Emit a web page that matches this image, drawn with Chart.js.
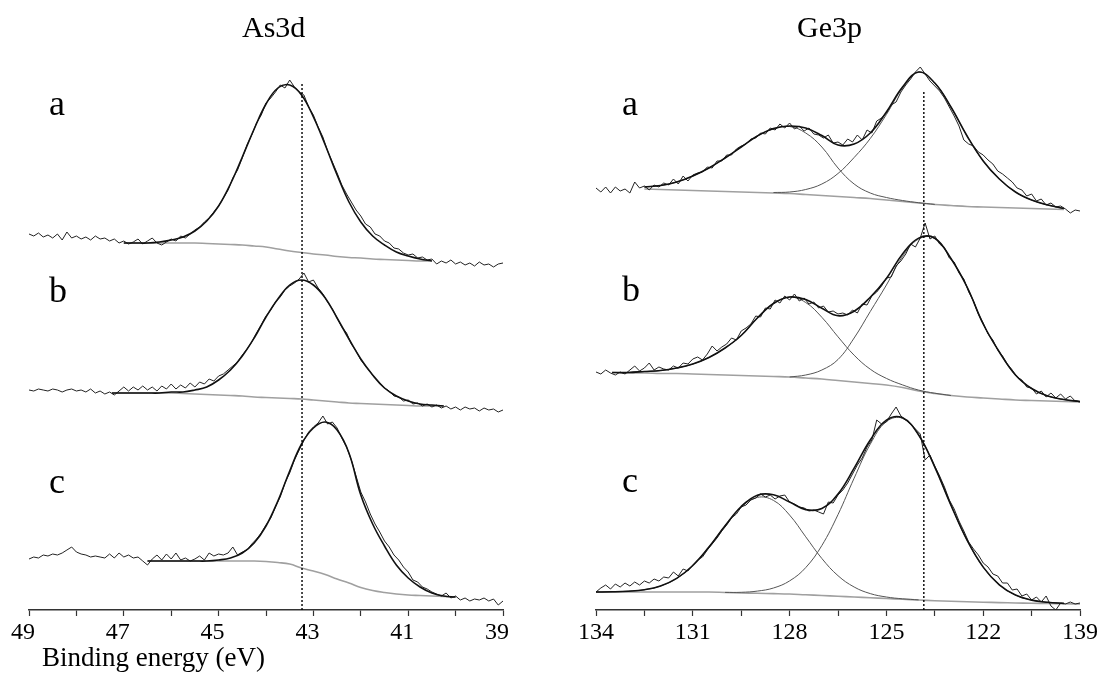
<!DOCTYPE html>
<html>
<head>
<meta charset="utf-8">
<script src="https://cdn.jsdelivr.net/npm/chart.js@4.4.1/dist/chart.umd.min.js"></script>
<style>
  body { margin: 0; background: #fff; }
  #wrap { position: relative; width: 1104px; height: 673px; overflow: hidden; font-family: "Liberation Serif", "Times New Roman", serif; color: #000; }
  canvas { position: absolute; top: 0; }
  .txt { position: absolute; line-height: 1; white-space: nowrap; }
  .title { font-size: 30px; top: 12px; }
  .lbl { font-size: 36px; }
  .xlab { font-size: 27px; top: 644px; left: 42px; }
</style>
</head>
<body>
<div id="wrap">
  <canvas id="left" width="540" height="673" style="left:0"></canvas>
  <canvas id="right" width="544" height="673" style="left:560px"></canvas>
  <div class="txt title" style="left:242px">As3d</div>
  <div class="txt title" style="left:797px">Ge3p</div>
  <div class="txt lbl" style="left:49px;top:85px">a</div>
  <div class="txt lbl" style="left:49px;top:272px">b</div>
  <div class="txt lbl" style="left:49px;top:463px">c</div>
  <div class="txt lbl" style="left:622px;top:85px">a</div>
  <div class="txt lbl" style="left:622px;top:271px">b</div>
  <div class="txt lbl" style="left:622px;top:462px">c</div>
  <div class="txt xlab">Binding energy (eV)</div>
</div>
<script>
// ---- As3d : raw spectra (binding energy, eV) ----
const leftE = [49, 48.9, 48.8, 48.7, 48.6, 48.5, 48.4, 48.3, 48.2, 48.1,
  48, 47.9, 47.8, 47.7, 47.6, 47.5, 47.4, 47.3, 47.2, 47.1,
  47, 46.9, 46.8, 46.7, 46.6, 46.5, 46.4, 46.3, 46.2, 46.1,
  46, 45.9, 45.8, 45.7, 45.6, 45.5, 45.4, 45.3, 45.2, 45.1,
  45, 44.9, 44.8, 44.7, 44.6, 44.5, 44.4, 44.3, 44.2, 44.1,
  44, 43.9, 43.8, 43.7, 43.6, 43.5, 43.4, 43.3, 43.2, 43.1,
  43, 42.9, 42.8, 42.7, 42.6, 42.5, 42.4, 42.3, 42.2, 42.1,
  42, 41.9, 41.8, 41.7, 41.6, 41.5, 41.4, 41.3, 41.2, 41.1,
  41, 40.9, 40.8, 40.7, 40.6, 40.5, 40.4, 40.3, 40.2, 40.1,
  40, 39.9, 39.8, 39.7, 39.6, 39.5, 39.4, 39.3, 39.2, 39.1, 39];
const asRawA = [376, 374, 377, 373, 375, 372, 376, 370, 378, 372,
  374, 371, 373, 370, 374, 371, 372, 369, 371, 367,
  369, 366, 368, 371, 366, 369, 372, 367, 365, 368,
  371, 369, 374, 372, 376, 380, 383, 388, 392, 398,
  404, 412, 420, 432, 440, 452, 465, 475, 487, 495,
  507, 512, 518, 525, 522, 530, 523, 518, 515, 503,
  495, 483, 473, 459, 448, 437, 425, 416, 408, 400,
  394, 386, 383, 376, 374, 369, 367, 362, 361, 357,
  355, 356, 352, 353, 350, 351, 346, 349, 347, 350,
  346, 348, 345, 347, 344, 348, 345, 346, 343, 346, 347];
const asRawB = [220, 219, 221, 220, 219, 221, 220, 218, 220, 221,
  219, 220, 218, 221, 217, 219, 216, 218, 215, 219,
  223, 219, 223, 220, 224, 220, 223, 219, 224, 221,
  226, 221, 225, 222, 227, 223, 228, 226, 231, 229,
  234, 236, 240, 244, 248, 255, 261, 268, 277, 285,
  294, 300, 308, 313, 320, 324, 327, 331, 337, 328,
  330, 322, 316, 308, 301, 292, 283, 277, 266, 259,
  250, 244, 238, 232, 227, 222, 219, 214, 213, 209,
  210, 206, 207, 204, 206, 203, 205, 202, 204, 201,
  203, 200, 203, 201, 202, 199, 202, 200, 201, 198, 200];
const asRawC = [51, 53, 52, 55, 54, 56, 55, 57, 60, 63,
  58, 56, 55, 53, 54, 53, 52, 56, 52, 57,
  53, 55, 52, 53, 49, 45, 51, 55, 50, 56,
  51, 57, 50, 52, 49, 51, 54, 50, 57, 54,
  56, 55, 57, 63, 55, 58, 60, 66, 71, 77,
  85, 92, 103, 113, 127, 137, 150, 160, 170, 178,
  183, 187, 194, 186, 188, 182, 172, 163, 150, 134,
  118, 108, 96, 86, 78, 69, 63, 55, 50, 43,
  38, 30, 28, 23, 21, 18, 16, 14, 17, 12,
  14, 10, 12, 9, 11, 10, 12, 9, 11, 5, 9];

// ---- As3d : fitted curves ----
const leftFitE = [47.25, 47, 46.75, 46.5, 46.25, 46, 45.75, 45.5, 45.25, 45,
  44.75, 44.5, 44.25, 44, 43.75, 43.5, 43.25, 43, 42.75, 42.5,
  42.25, 42, 41.75, 41.5, 41.25, 41, 40.75, 40.5, 40.25, 40];
const asFitA = [null, 367, 367, 367, 368, 370, 373, 379, 389, 404,
  426, 453, 481, 506, 522, 525, 515, 493, 465, 435,
  408, 388, 374, 365, 358, 354, 351, 349, null, null];
const asBgA = [null, 367, 367, 367, 367, 367, 367, 367, 366.5, 366,
  365.5, 365, 364, 363, 361, 359, 357.5, 356, 355, 353.5,
  352.5, 352, 351, 350.5, 350, 349.5, 349, 349, null, null];
const asFitB = [217, 217, 217, 217, 217, 218, 218, 220, 223, 230,
  240, 254, 272, 293, 311, 325, 330, 325, 312, 292,
  271, 251, 235, 222, 214, 209, 206, 205, 204, null];
const asBgB = [217, 217, 217, 217, 217, 217, 216.5, 216, 215.5, 215,
  214.5, 214, 213, 212.5, 212, 211.5, 211, 210, 209, 208,
  207, 206.5, 206, 205.5, 205, 204.5, 204, 204, 204, null];
const asFitC = [null, null, null, 49, 49, 49, 49, 49, 49, 50,
  52, 57, 67, 84, 109, 139, 166, 182, 188, 180,
  157, 115, 86, 64, 45, 32, 23, 17, 14, 13];
const asBgC = [null, null, null, 49, 49, 49, 49, 49, 49, 49,
  49, 49, 49, 48.5, 47.5, 46, 42, 39, 35.5, 31,
  27, 22.5, 19.5, 17.5, 16, 15, 14.5, 14, 13.5, 13];
const asRef = 43.24;   // dotted reference line
const asTicks = [49, 47, 45, 43, 41, 39];

// ---- Ge3p : raw spectra ----
const rightE = [134, 133.85, 133.7, 133.55, 133.4, 133.25, 133.1, 132.95, 132.8, 132.65,
  132.5, 132.35, 132.2, 132.05, 131.9, 131.75, 131.6, 131.45, 131.3, 131.15,
  131, 130.85, 130.7, 130.55, 130.4, 130.25, 130.1, 129.95, 129.8, 129.65,
  129.5, 129.35, 129.2, 129.05, 128.9, 128.75, 128.6, 128.45, 128.3, 128.15,
  128, 127.85, 127.7, 127.55, 127.4, 127.25, 127.1, 126.95, 126.8, 126.65,
  126.5, 126.35, 126.2, 126.05, 125.9, 125.75, 125.6, 125.45, 125.3, 125.15,
  125, 124.85, 124.7, 124.55, 124.4, 124.25, 124.1, 123.95, 123.8, 123.65,
  123.5, 123.35, 123.2, 123.05, 122.9, 122.75, 122.6, 122.45, 122.3, 122.15,
  122, 121.85, 121.7, 121.55, 121.4, 121.25, 121.1, 120.95, 120.8, 120.65,
  120.5, 120.35, 120.2, 120.05, 119.9, 119.75, 119.6, 119.45, 119.3, 119.15, 119];
const geRawA = [422, 418, 423, 417, 423, 419, 421, 417, 428, 422,
  424, 420, 425, 423, 427, 425, 431, 426, 434, 429,
  435, 437, 438, 443, 442, 449, 449, 455, 455, 461,
  464, 466, 471, 472, 477, 476, 482, 480, 486, 482,
  487, 481, 484, 479, 482, 476, 475, 472, 475, 467,
  468, 465, 471, 468, 475, 470, 480, 477, 489, 492,
  497, 505, 508, 518, 525, 531, 538, 543, 536, 529,
  524, 519, 512, 503, 494, 484, 470, 466, 464, 458,
  455, 450, 446, 439, 436, 432, 428, 422, 420, 414,
  416, 409, 411, 405, 407, 403, 404, 401, 397, 400, 399];
const geRawB = [238, 236, 240, 237, 235, 238, 236, 240, 244, 239,
  242, 247, 240, 243, 241, 240, 244, 242, 247, 246,
  251, 253, 250, 256, 264, 259, 263, 266, 272, 270,
  279, 282, 286, 294, 293, 302, 301, 310, 307, 314,
  310, 316, 309, 312, 306, 308, 302, 304, 298, 299,
  296, 297, 295, 300, 297, 306, 305, 314, 318, 324,
  332, 333, 344, 349, 356, 366, 363, 372, 387, 371,
  374, 366, 362, 352, 348, 337, 331, 318, 309, 296,
  287, 276, 270, 260, 254, 246, 240, 233, 230, 223,
  222, 216, 219, 213, 217, 212, 216, 211, 214, 209, 208];
const geRawC = [18, 22, 25, 21, 26, 23, 27, 24, 28, 25,
  29, 27, 31, 29, 33, 32, 38, 34, 41, 39,
  45, 50, 53, 60, 66, 72, 79, 85, 92, 96,
  103, 105, 110, 112, 116, 113, 115, 111, 114, 115,
  108, 106, 103, 102, 99, 100, 98, 96, 108, 107,
  115, 120, 127, 136, 145, 152, 163, 170, 190, 186,
  188, 196, 203, 194, 190, 186, 181, 176, 150, 155,
  144, 134, 123, 110, 101, 89, 79, 68, 61, 55,
  47, 43, 36, 34, 27, 27, 20, 21, 14, 16,
  10, 13, 8, 14, 4, 0, 7, 6, 8, 6, 7];

// ---- Ge3p : fitted curves ----
const rightFitE = [134, 133.5, 133, 132.5, 132, 131.5, 131, 130.5, 130, 129.5,
  129, 128.5, 128, 127.5, 127, 126.5, 126, 125.5, 125, 124.5,
  124, 123.5, 123, 122.5, 122, 121.5, 121, 120.5, 120, 119.5, 119];
const geFitA = [null, null, null, 423, 424.5, 428, 434, 442, 452, 463,
  474, 481.5, 484, 482, 474.5, 465, 466, 477, 498, 523,
  538, 527, 503, 474, 449, 431, 418, 410, 405, 401.5, null];
const geBgA = [null, null, null, 421, 420.5, 420, 419.5, 419, 418.5, 418,
  417.5, 417, 416.5, 415.5, 414.5, 413.5, 412.5, 411.5, 410, 408.5,
  407, 405.5, 404.5, 403.5, 403, 402.5, 402, 401.5, 401, 400.5, null];
const geP1A = [null, null, null, 423, 424.5, 428, 434, 442, 452, 463,
  474, 481, 483.5, 477, 463, 442, 426, 417, 412.5, 409.5,
  407.3, 405.6, null, null, null, null, null, null, null, null, null];
const geP2A = [null, null, null, null, null, null, null, null, null, null,
  null, 417.5, 418, 420.5, 426, 436.5, 452.5, 471.5, 495.5, 522,
  538, 527, 503, 474, 449, 431, 418, 410, 405, 401.5, null];
const geFitB = [null, 237.5, 237.5, 238.5, 239.5, 242, 246, 252.5, 262, 274.5,
  292, 306.5, 313, 310.5, 301.7, 294.2, 298.8, 312.8, 331.6, 356.1,
  371.9, 371.8, 351.5, 323, 286, 258, 235, 221.5, 214, 210.5, 208.5];
const geBgB = [null, 237.5, 237, 237, 236.5, 236.5, 236, 235.5, 235, 234.5,
  234, 233.5, 233, 232, 231, 229.5, 228, 226.5, 225, 222.5,
  219, 216.5, 214.5, 213, 212, 211, 210, 209.5, 209, 208.5, 208];
const geP1B = [null, 237.5, 237.5, 238.5, 239.5, 242, 246, 252.5, 262, 274.5,
  292, 306.5, 313, 307.5, 292.7, 273.2, 254.8, 240.8, 231.6, 225.1,
  219.9, 216.8, 214.5, null, null, null, null, null, null, null, null];
const geP2B = [null, null, null, null, null, null, null, null, null, null,
  null, null, 233, 235, 240, 250.5, 272, 298.5, 325, 353.5,
  371, 371.5, 351.5, 323, 286, 258, 235, 221.5, 214, 210.5, 208.5];
const geFitC = [18, 18.2, 18.8, 20.3, 24, 31.6, 44.5, 63, 84.2, 103.5,
  114.8, 115.2, 108, 100.4, 101.5, 116, 141.8, 170, 189.9, 192.2,
  175, 142.9, 104.9, 69.8, 42.9, 25.2, 15, 9.9, 7.7, 6.6, null];
const geBgC = [18, 18, 18, 18, 18, 18, 18, 18, 17.5, 17,
  16.7, 16.4, 16, 15.2, 14.5, 13.7, 13, 12.2, 11.5, 10.7,
  10, 9.3, 8.7, 8.2, 7.8, 7.4, 7, 6.7, 6.5, 6.2, 6];
const geP1C = [18, 18.2, 18.8, 20.3, 24, 31.6, 44.5, 63, 84.2, 102.8,
  112.6, 109.6, 94.9, 73.2, 51.5, 34.3, 23, 16.4, 13, 11.2,
  10.1, null, null, null, null, null, null, null, null, null, null];
const geP2C = [null, null, null, null, null, null, null, null, 17.6, 17.7,
  18.9, 22, 29.1, 42.4, 64.5, 95.4, 131.8, 165.8, 188.4, 191.7,
  174.9, 142.9, 104.9, 69.8, 42.9, 25.2, 15, 9.9, 7.7, 6.6, null];
const geRef = 123.84;
const geTicks = [134, 131, 128, 125, 122, 119];
const geTickText = ['134', '131', '128', '125', '122', '139'];

// helpers
function pts(xs, ys) {
  const out = [];
  xs.forEach((x, i) => { if (ys[i] !== null) out.push({ x: x, y: ys[i] }); });
  return out;
}
const FIT = { borderColor: '#111', borderWidth: 1.6, tension: 0.4 };
const RAW = { borderColor: '#222', borderWidth: 1, tension: 0 };
const COMP = { borderColor: '#555', borderWidth: 1, tension: 0.4 };
const BG = { borderColor: '#a0a0a0', borderWidth: 1.6, tension: 0.4 };
const DOT = { borderColor: '#000', borderDash: [2, 2], borderWidth: 1.4, tension: 0 };

function ds(style, data) {
  return Object.assign({ data: data, pointRadius: 0, fill: false }, style);
}

function makeChart(id, opt) {
  return new Chart(document.getElementById(id), {
    type: 'line',
    data: { datasets: opt.datasets },
    options: {
      responsive: false,
      animation: false,
      devicePixelRatio: 1,
      layout: { padding: opt.padding },
      plugins: { legend: { display: false }, tooltip: { enabled: false } },
      scales: {
        x: {
          type: 'linear',
          reverse: true,
          min: opt.min,
          max: opt.max,
          afterFit: s => { s.height = 63; },
          border: { display: true, color: '#333', width: 1.5 },
          grid: { display: true, drawOnChartArea: false, drawTicks: true, tickLength: 6, tickColor: '#333', tickWidth: 1.2 },
          ticks: {
            stepSize: opt.step,
            autoSkip: false,
            maxRotation: 0,
            padding: 2,
            labelOffset: opt.labelOffset,
            color: '#000',
            font: { family: '"Liberation Serif", "Times New Roman", serif', size: 24 },
            callback: opt.label
          }
        },
        y: { display: false, min: 0, max: 560 }
      }
    }
  });
}

function near(list, v) {
  return list.findIndex(t => Math.abs(t - v) < 1e-6);
}

makeChart('left', {
  min: 39, max: 49, step: 1, labelOffset: -6,
  padding: { top: 50, left: 29, right: 37, bottom: 0 },
  label: v => (near(asTicks, v) >= 0 ? String(v) : ''),
  datasets: [
    ds(DOT, [{ x: asRef, y: 0 }, { x: asRef, y: 527 }]),
    ds(FIT, pts(leftFitE, asFitA)),
    ds(FIT, pts(leftFitE, asFitB)),
    ds(FIT, pts(leftFitE, asFitC)),
    ds(RAW, pts(leftE, asRawA)),
    ds(RAW, pts(leftE, asRawB)),
    ds(RAW, pts(leftE, asRawC)),
    ds(BG, pts(leftFitE, asBgA)),
    ds(BG, pts(leftFitE, asBgB)),
    ds(BG, pts(leftFitE, asBgC))
  ]
});

makeChart('right', {
  min: 119, max: 134, step: 1.5, labelOffset: 0,
  padding: { top: 50, left: 36, right: 24, bottom: 0 },
  label: v => { const k = near(geTicks, v); return k >= 0 ? geTickText[k] : ''; },
  datasets: [
    ds(DOT, [{ x: geRef, y: 0 }, { x: geRef, y: 518 }]),
    ds(FIT, pts(rightFitE, geFitA)),
    ds(FIT, pts(rightFitE, geFitB)),
    ds(FIT, pts(rightFitE, geFitC)),
    ds(RAW, pts(rightE, geRawA)),
    ds(RAW, pts(rightE, geRawB)),
    ds(RAW, pts(rightE, geRawC)),
    ds(COMP, pts(rightFitE, geP1A)),
    ds(COMP, pts(rightFitE, geP2A)),
    ds(COMP, pts(rightFitE, geP1B)),
    ds(COMP, pts(rightFitE, geP2B)),
    ds(COMP, pts(rightFitE, geP1C)),
    ds(COMP, pts(rightFitE, geP2C)),
    ds(BG, pts(rightFitE, geBgA)),
    ds(BG, pts(rightFitE, geBgB)),
    ds(BG, pts(rightFitE, geBgC))
  ]
});
</script>
</body>
</html>
